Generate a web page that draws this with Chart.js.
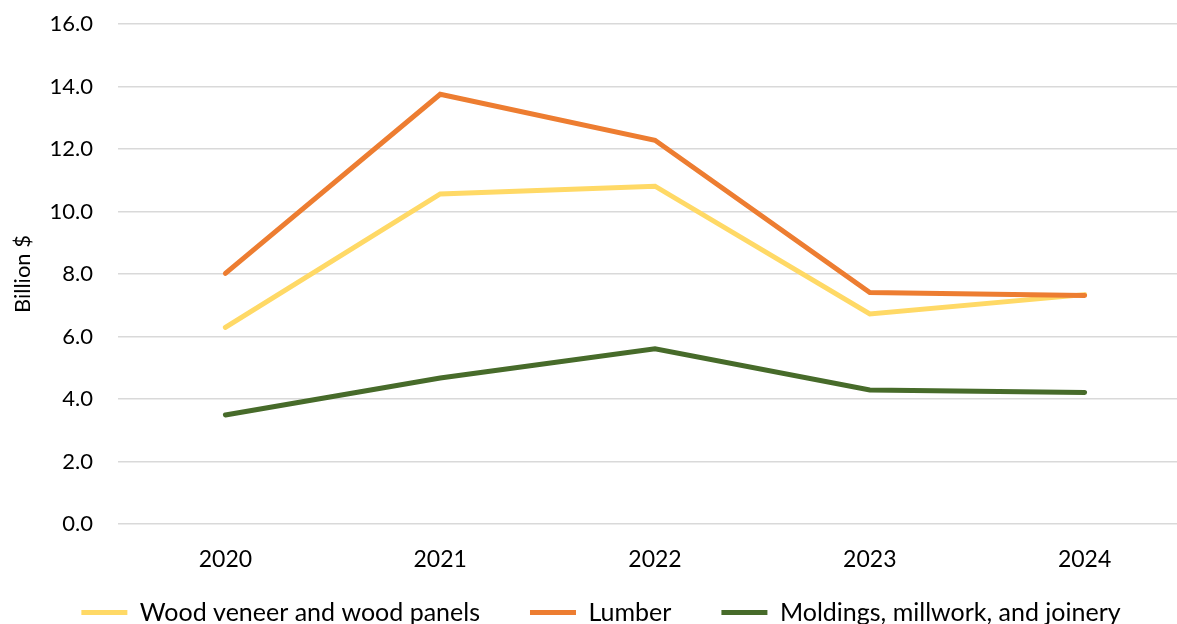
<!DOCTYPE html>
<html>
<head>
<meta charset="utf-8">
<script src="https://cdn.jsdelivr.net/npm/chart.js@4.4.1/dist/chart.umd.min.js"></script>
<style>
html,body{margin:0;padding:0;background:#fff;overflow:hidden;}
#wrap{position:absolute;left:0;top:0;width:1192px;height:635px;}
</style>
</head>
<body>
<div id="wrap"><canvas id="c"></canvas></div>
<script>
const categories = ['2020', '2021', '2022', '2023', '2024'];
const woodVeneer = [6.29, 10.56, 10.81, 6.72, 7.34];
const lumber = [8.02, 13.75, 12.28, 7.41, 7.31];
const moldings = [3.49, 4.67, 5.61, 4.29, 4.21];
const yTicks = [0, 2, 4, 6, 8, 10, 12, 14, 16];

const FONT = 'Lato, "Open Sans", sans-serif';

new Chart(document.getElementById('c'), {
  type: 'line',
  data: {
    labels: categories,
    datasets: [
      {label: 'Wood veneer and wood panels', data: woodVeneer, borderColor: '#FFD966', backgroundColor: '#FFD966', order: 1},
      {label: 'Lumber', data: lumber, borderColor: '#ED7D31', backgroundColor: '#ED7D31', order: 0},
      {label: 'Moldings, millwork, and joinery', data: moldings, borderColor: '#476B2A', backgroundColor: '#476B2A', order: 2}
    ]
  },
  options: {
    responsive: true,
    maintainAspectRatio: false,
    animation: false,
    layout: {padding: {top: 24, left: 10, right: 0, bottom: 0}},
    elements: {
      line: {borderWidth: 5, tension: 0, borderCapStyle: 'round', borderJoinStyle: 'miter'},
      point: {radius: 0, hoverRadius: 0}
    },
    plugins: {
      legend: {
        position: 'bottom',
        labels: {
          font: {family: FONT, size: 25},
          color: '#000',
          boxWidth: 46,
          boxHeight: 5,
          padding: 50,
          generateLabels: (chart) => chart.data.datasets.map((d, i) => ({
            text: d.label, fillStyle: d.borderColor, strokeStyle: d.borderColor,
            lineWidth: 0, datasetIndex: i, hidden: false
          }))
        }
      },
      tooltip: {enabled: false}
    },
    scales: {
      x: {
        offset: true,
        grid: {display: false},
        border: {display: false},
        ticks: {font: {family: FONT, size: 23}, color: '#000', padding: 14},
        afterFit: (s) => { s.height = 26; s._computeLabelArea = () => undefined; }
      },
      y: {
        min: 0, max: 16,
        afterBuildTicks: (s) => { s.ticks = yTicks.map(v => ({value: v})); },
        ticks: {font: {family: FONT, size: 22}, color: '#000', padding: 25,
          callback: (v) => Number(v).toFixed(1)},
        grid: {color: '#D9D9D9', lineWidth: 1.5, drawTicks: false},
        border: {display: false},
        title: {display: true, text: 'Billion $', font: {family: FONT, size: 22}, color: '#000', padding: {top: 0, bottom: 6}},
        afterFit: (s) => { s.width = 108; s.paddingTop = 0; s.paddingBottom = 0; }
      }
    }
  }
});
</script>
</body>
</html>
